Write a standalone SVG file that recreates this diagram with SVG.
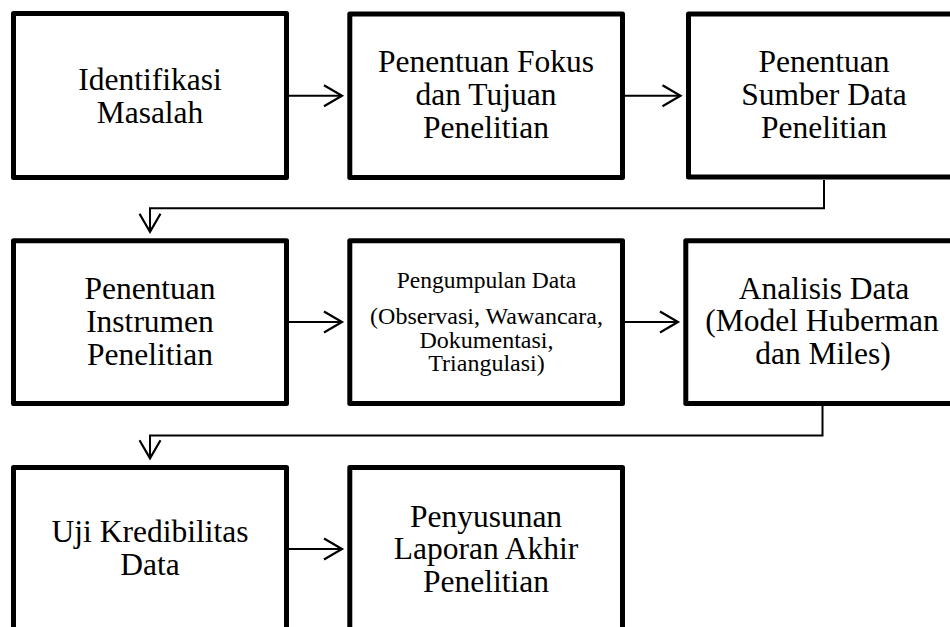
<svg xmlns="http://www.w3.org/2000/svg" width="950" height="627" viewBox="0 0 950 627">
<style>
.box{fill:#fff;stroke:#000;stroke-width:5;stroke-linejoin:round}
.t{font-family:"Liberation Serif","Times New Roman",serif;font-size:31.5px;fill:#000;text-anchor:middle}
.s{font-family:"Liberation Serif","Times New Roman",serif;font-size:24px;fill:#000;text-anchor:middle}
.c{fill:none;stroke:#000;stroke-width:2}
</style>
<defs>
<marker id="ah" markerUnits="userSpaceOnUse" markerWidth="24" markerHeight="26" viewBox="-20 -12 24 24" refX="0" refY="0" orient="auto">
<path d="M-18,-10.5 L0,0 L-18,10.5" fill="none" stroke="#000" stroke-width="2.2"/>
</marker>
</defs>
<rect width="950" height="627" fill="#fff"/>
<g id="n1"><rect class="box" x="13.5" y="13.5" width="273" height="164"/>
<text class="t" x="150" y="89.5">Identifikasi</text><text class="t" x="150" y="122.5">Masalah</text></g>
<g id="n2"><rect class="box" x="349.8" y="14" width="272.7" height="163.5"/>
<text class="t" x="486" y="72">Penentuan Fokus</text><text class="t" x="486" y="105">dan Tujuan</text><text class="t" x="486" y="138">Penelitian</text></g>
<g id="n3"><rect class="box" x="688.5" y="14" width="272" height="163"/>
<text class="t" x="824" y="72">Penentuan</text><text class="t" x="824" y="104.5">Sumber Data</text><text class="t" x="824" y="137.5">Penelitian</text></g>
<g id="n4"><rect class="box" x="13.5" y="240.8" width="273" height="162.7"/>
<text class="t" x="150" y="299">Penentuan</text><text class="t" x="150" y="332">Instrumen</text><text class="t" x="150" y="365">Penelitian</text></g>
<g id="n5"><rect class="box" x="349.8" y="240.8" width="272.7" height="162.7"/>
<text class="s" x="486.5" y="288" style="font-size:23.5px">Pengumpulan Data</text><text class="s" x="486.5" y="324">(Observasi, Wawancara,</text><text class="s" x="486.5" y="347.5">Dokumentasi,</text><text class="s" x="486.5" y="371">Triangulasi)</text></g>
<g id="n6"><rect class="box" x="685.8" y="240.8" width="275" height="162.7"/>
<text class="t" x="824" y="298.5">Analisis Data</text><text class="t" x="822" y="331">(Model Huberman</text><text class="t" x="823" y="363.5">dan Miles)</text></g>
<g id="n7"><rect class="box" x="13.5" y="467.5" width="273" height="170"/>
<text class="t" x="150" y="542">Uji Kredibilitas</text><text class="t" x="150" y="575">Data</text></g>
<g id="n8"><rect class="box" x="349.8" y="467.5" width="272.7" height="170"/>
<text class="t" x="486" y="527">Penyusunan</text><text class="t" x="486" y="559">Laporan Akhir</text><text class="t" x="486" y="592">Penelitian</text></g>
<g id="connectors">
<line class="c" x1="289" y1="95.7" x2="342" y2="95.7" marker-end="url(#ah)"/>
<line class="c" x1="625" y1="95.7" x2="680.5" y2="95.7" marker-end="url(#ah)"/>
<line class="c" x1="289" y1="322" x2="342" y2="322" marker-end="url(#ah)"/>
<line class="c" x1="625" y1="322" x2="678" y2="322" marker-end="url(#ah)"/>
<line class="c" x1="289" y1="549" x2="342" y2="549" marker-end="url(#ah)"/>
<polyline class="c" points="824,180 824,208.3 150,208.3 150,231.7" marker-end="url(#ah)"/>
<polyline class="c" points="822.5,406 822.5,435.5 150,435.5 150,458.3" marker-end="url(#ah)"/>
</g>
</svg>
